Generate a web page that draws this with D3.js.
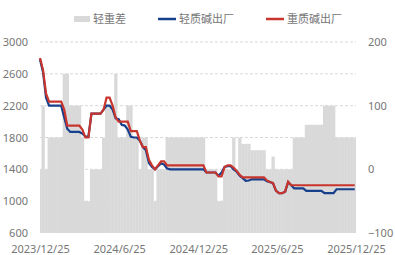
<!DOCTYPE html>
<html lang="zh">
<head>
<meta charset="utf-8">
<title>轻重碱价格</title>
<script src="https://d3js.org/d3.v7.min.js"></script>
<style>
  body { margin: 0; background: #fff; }
  text { font-family: "Noto Sans CJK SC", "Noto Sans", sans-serif; }
</style>
</head>
<body>
<svg width="395" height="255"></svg>
<script>
// weekly series, first week 2023-12-25
var startDate = new Date(2023, 11, 25);

// 重质碱出厂 (heavy soda ash, left axis)
var heavy = [
  2800,2650,2350,2250,2250,2250,2250,2250,2150,1950,
  1950,1950,1950,1950,1900,1800,1800,2100,2100,2100,
  2100,2150,2300,2300,2200,2050,2000,2000,2000,2000,
  1880,1880,1880,1760,1680,1680,1520,1450,1400,1450,
  1500,1500,1450,1450,1450,1450,1450,1450,1450,1450,
  1450,1450,1450,1450,1450,1360,1360,1360,1360,1310,
  1310,1430,1450,1450,1420,1380,1330,1300,1300,1300,
  1300,1300,1300,1300,1300,1260,1240,1230,1130,1100,
  1100,1120,1245,1200,1200,1200,1200,1200,1200,1200,
  1200,1200,1200,1200,1200,1200,1200,1200,1200,1200,
  1200,1200,1200,1200,1200
];

// 轻质碱出厂 (light soda ash, left axis)
var light = [
  2780,2620,2300,2200,2200,2200,2200,2200,2050,1910,
  1870,1870,1870,1870,1850,1810,1810,2100,2100,2100,
  2100,2150,2200,2200,2150,2040,2030,1960,1950,1900,
  1810,1800,1800,1760,1680,1640,1480,1430,1400,1440,
  1475,1460,1410,1400,1400,1400,1400,1400,1400,1400,
  1400,1400,1400,1400,1400,1360,1360,1360,1360,1320,
  1360,1430,1440,1440,1400,1370,1320,1290,1255,1260,
  1275,1275,1275,1275,1275,1250,1240,1225,1130,1100,
  1100,1120,1240,1200,1160,1160,1160,1160,1130,1130,
  1130,1130,1130,1130,1100,1100,1100,1100,1150,1150,
  1150,1150,1150,1150,1150
];

// 轻重差 (spread, right axis)
var spread = [
  0,100,0,50,50,50,50,50,150,150,
  100,100,100,100,50,-50,-50,0,0,0,
  0,50,100,100,100,150,50,50,50,100,
  100,50,50,0,50,50,0,0,-50,0,
  0,0,50,50,50,50,50,50,50,50,
  50,50,50,50,50,0,0,0,0,-50,
  -50,0,0,0,50,0,50,40,40,40,
  30,30,30,30,30,0,0,20,0,0,
  0,0,0,0,50,50,50,50,70,70,
  70,70,70,70,100,100,100,100,50,50,
  50,50,50,50,50
];

var xTickLabels = ["2023/12/25", "2024/6/25", "2024/12/25", "2025/6/25", "2025/12/25"];
var leftTicks = [600, 1000, 1400, 1800, 2200, 2600, 3000];
var rightTicks = [-100, 0, 100, 200];
var legendNames = ["轻重差", "轻质碱出厂", "重质碱出厂"];
var colors = { spread: "#d9d9d9", light: "#163f8c", heavy: "#c8352d" };

var svg = d3.select("svg"),
    margin = {top: 42, right: 39, bottom: 22, left: 40},
    w = +svg.attr("width") - margin.left - margin.right,
    h = +svg.attr("height") - margin.top - margin.bottom;

var parseTick = d3.timeParse("%Y/%m/%d");
var dates = heavy.map(function(d, i) { return d3.timeDay.offset(startDate, 7 * i); });

var x = d3.scaleTime()
    .domain([parseTick(xTickLabels[0]), parseTick(xTickLabels[xTickLabels.length - 1])])
    .range([0, w]);
var yLeft = d3.scaleLinear().domain([600, 3000]).range([h, 0]);
var yRight = d3.scaleLinear().domain([-100, 200]).range([h, 0]);

var g = svg.append("g")
    .attr("transform", "translate(" + margin.left + "," + margin.top + ")");

g.append("clipPath").attr("id", "plot")
  .append("rect").attr("width", w).attr("height", h);

// dashed gridlines
g.selectAll(".grid")
  .data(leftTicks.slice(1))
  .enter().append("line")
    .attr("x1", 0).attr("x2", w)
    .attr("y1", function(d) { return yLeft(d); })
    .attr("y2", function(d) { return yLeft(d); })
    .attr("stroke", "#d9d9d9")
    .attr("stroke-width", 1)
    .attr("stroke-dasharray", "3,2");

// spread bars, from the bottom of the right axis
g.append("g").attr("clip-path", "url(#plot)")
  .selectAll("rect")
  .data(spread)
  .enter().append("rect")
    .attr("x", function(d, i) {
      var bw = x(d3.timeDay.offset(dates[i], 7)) - x(dates[i]);
      return x(dates[i]) - bw / 2;
    })
    .attr("width", function(d, i) { return x(d3.timeDay.offset(dates[i], 7)) - x(dates[i]) + 0.3; })
    .attr("y", function(d) { return yRight(d); })
    .attr("height", function(d) { return h - yRight(d); })
    .attr("fill", colors.spread);

var line = d3.line()
    .x(function(d, i) { return x(dates[i]); })
    .y(function(d) { return yLeft(d); });

g.append("path").datum(light)
    .attr("d", line)
    .attr("fill", "none")
    .attr("stroke", colors.light)
    .attr("stroke-width", 2.2);

g.append("path").datum(heavy)
    .attr("d", line)
    .attr("fill", "none")
    .attr("stroke", colors.heavy)
    .attr("stroke-width", 2.2);

// axes
var leftAxis = g.append("g")
    .call(d3.axisLeft(yLeft).tickValues(leftTicks).tickSize(0).tickPadding(12).tickFormat(d3.format("d")));
var rightAxis = g.append("g")
    .attr("transform", "translate(" + w + ",0)")
    .call(d3.axisRight(yRight).tickValues(rightTicks).tickSize(0).tickPadding(12));
var bottomAxis = g.append("g")
    .attr("transform", "translate(0," + h + ")")
    .call(d3.axisBottom(x).tickValues(xTickLabels.map(parseTick)).tickSize(0).tickPadding(12)
      .tickFormat(function(d, i) { return xTickLabels[i]; }));

[leftAxis, rightAxis, bottomAxis].forEach(function(a) {
  a.select(".domain").remove();
  a.selectAll("text")
    .attr("fill", "#767676")
    .style("font-family", "'Noto Sans', sans-serif")
    .style("font-size", "11px");
});

// legend
var legend = svg.append("g").attr("transform", "translate(74,19)");
var lx = 0;
legendNames.forEach(function(name, i) {
  var item = legend.append("g").attr("transform", "translate(" + lx + ",0)");
  if (i === 0) {
    item.append("rect").attr("x", 0).attr("y", -3).attr("width", 16).attr("height", 6)
      .attr("fill", colors.spread);
  } else {
    item.append("line").attr("x1", 0).attr("x2", 18).attr("y1", 0).attr("y2", 0)
      .attr("stroke", i === 1 ? colors.light : colors.heavy).attr("stroke-width", 2.5);
  }
  var t = item.append("text")
      .attr("x", i === 0 ? 19 : 21)
      .attr("dy", "0.35em")
      .attr("fill", "#767676")
      .style("font-size", "11px")
      .text(name);
  lx += (i === 0 ? 19 : 21) + t.node().getComputedTextLength() + 32;
});
</script>
</body>
</html>
